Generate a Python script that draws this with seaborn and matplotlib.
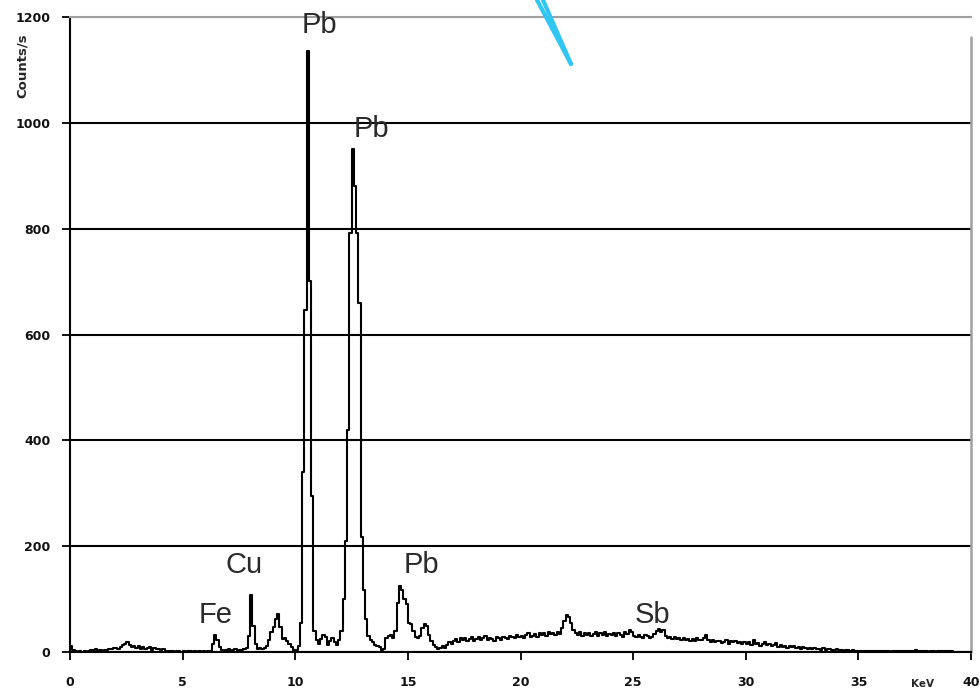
import numpy as np
import pandas as pd
import matplotlib
matplotlib.use("Agg")
import matplotlib.pyplot as plt
import seaborn as sns
from matplotlib.lines import Line2D

# X-ray fluorescence spectrum: counts per 0.1 keV channel, 0-40 keV
counts_0_10 = [
    12, 4, 1, 0, 1, 0, 1, 0, 2, 4,
    4, 5, 2, 3, 2, 4, 3, 6, 5, 7,
    8, 6, 9, 13, 16, 19, 14, 10, 12, 8,
    11, 6, 9, 5, 8, 10, 4, 7, 5, 6,
    3, 5, 2, 1, 2, 1, 0, 1, 1, 0,
    1, 0, 1, 1, 0, 1, 0, 1, 0, 1,
    0, 1, 1, 15, 32, 22, 9, 4, 2, 3,
    5, 2, 3, 5, 2, 4, 3, 5, 8, 30,
    108, 50, 15, 6, 8, 5, 7, 12, 22, 38,
    48, 62, 72, 48, 24, 27, 20, 16, 10, 4,
]
counts_10_20 = [
    3, 12, 54, 340, 647, 1135, 701, 295, 39, 22,
    15, 25, 32, 28, 14, 20, 26, 18, 14, 22,
    40, 101, 209, 419, 791, 950, 880, 791, 659, 217,
    117, 62, 31, 22, 18, 14, 12, 9, 4, 6,
    26, 30, 32, 27, 40, 92, 124, 118, 100, 90,
    55, 53, 40, 29, 27, 30, 45, 53, 50, 33,
    20, 13, 9, 6, 8, 11, 7, 14, 18, 16,
    20, 24, 18, 26, 22, 27, 20, 25, 29, 21,
    24, 28, 22, 26, 30, 23, 27, 25, 21, 28,
    26, 23, 29, 27, 24, 31, 28, 26, 32, 29,
]
counts_20_30 = [
    30, 27, 33, 35, 28, 31, 34, 29, 36, 33,
    35, 31, 38, 34, 36, 32, 37, 34, 45, 58,
    70, 66, 55, 42, 36, 33, 38, 31, 35, 32,
    36, 30, 34, 37, 31, 35, 33, 38, 30, 34,
    32, 36, 31, 35, 33, 29, 37, 34, 42, 38,
    31, 28, 33, 29, 27, 32, 30, 26, 29, 34,
    40, 44, 38, 42, 30, 27, 29, 25, 28, 24,
    26, 23, 27, 22, 25, 21, 24, 20, 26, 22,
    22, 26, 33, 22, 19, 22, 18, 21, 20, 17,
    19, 22, 16, 20, 18, 21, 17, 19, 15, 18,
]
counts_30_40 = [
    16, 19, 14, 22, 15, 17, 12, 16, 19, 13,
    15, 11, 14, 17, 10, 13, 9, 12, 8, 11,
    9, 12, 7, 10, 6, 9, 8, 5, 7, 6,
    8, 5, 6, 4, 7, 3, 5, 6, 4, 3,
    5, 3, 4, 2, 3, 4, 2, 3, 1, 2,
    2, 1, 2, 1, 1, 2, 1, 1, 2, 1,
    1, 2, 1, 1, 0, 1, 2, 1, 1, 2,
    1, 2, 2, 1, 1, 3, 1, 2, 1, 2,
    1, 0, 1, 1, 0, 2, 1, 2, 2, 1,
    2, 1, 0, 0, 0, 0, 0, 0, 0, 0,
]

counts = counts_0_10 + counts_10_20 + counts_20_30 + counts_30_40
energy = np.arange(len(counts)) * 0.1 + 0.05   # channel centres, keV

# Element line labels: (text, x in keV, baseline in counts/s)
peak_labels = ["Pb", "Pb", "Cu", "Fe", "Pb", "Sb"]
peak_label_x = [11.06, 13.39, 7.73, 6.46, 15.61, 25.87]
peak_label_y = [1170, 974, 149, 55, 149, 55]

x_ticks = [0, 5, 10, 15, 20, 25, 30, 35, 40]
y_ticks = [0, 200, 400, 600, 800, 1000, 1200]

sns.set_theme(style="white")
plt.rcParams["font.family"] = ["DejaVu Sans"]

fig = plt.figure(figsize=(9.8, 6.92), dpi=100)
ax = fig.add_axes([70 / 980, 40 / 692, 901 / 980, 635 / 692])

df = pd.DataFrame({"energy": energy, "counts": counts})
sns.lineplot(data=df, x="energy", y="counts", ax=ax, color="black",
             linewidth=1.5, drawstyle="steps-mid", estimator=None,
             zorder=3)

ax.set_xlim(0, 40)
ax.set_ylim(0, 1200)
ax.set_xticks(x_ticks)
ax.set_yticks(y_ticks)
ax.set_xlabel("")
ax.set_ylabel("")

ax.tick_params(axis="x", direction="out", length=6, width=1.3,
               color="black", pad=11, labelsize=9, bottom=True)
ax.tick_params(axis="y", direction="out", length=6, width=1.3,
               color="black", pad=8, labelsize=9, left=True)
for lbl in ax.get_xticklabels() + ax.get_yticklabels():
    lbl.set_fontweight("bold")
    lbl.set_color("#111111")

# horizontal grid, the top one in grey like the frame
ax.yaxis.grid(True, color="black", linewidth=1.5)
ax.xaxis.grid(False)
ax.set_axisbelow(True)
ax.get_ygridlines()[-1].set_color("#a0a0a0")

for side in ("left", "bottom"):
    ax.spines[side].set_color("black")
    ax.spines[side].set_linewidth(1.5)
ax.spines["top"].set_color("#a0a0a0")
ax.spines["top"].set_linewidth(1.5)
ax.spines["right"].set_visible(False)
ax.axvline(40, ymin=0, ymax=0.968, color="#a0a0a0", linewidth=1.8,
           clip_on=False)

for txt, lx, ly in zip(peak_labels, peak_label_x, peak_label_y):
    ax.text(lx, ly, txt, ha="center", va="baseline", fontsize=21,
            family="Liberation Sans", color="#2a2a2a", zorder=4)

fig.text(22 / 980, 1 - 66 / 692, "Counts/s", rotation=90, ha="center",
         va="center", fontsize=9.5, fontweight="bold")
fig.text(922 / 980, 1 - 684 / 692, "KeV", ha="center", va="center",
         fontsize=7.5, fontweight="bold")

# pointer stroke reaching down from the top edge
fig.add_artist(Line2D([537 / 980, 571 / 980], [1.0, 1 - 64 / 692],
                      color="#30c6f2", linewidth=3, solid_capstyle="round"))
fig.add_artist(Line2D([543 / 980, 571 / 980], [1.0, 1 - 64 / 692],
                      color="#30c6f2", linewidth=3, solid_capstyle="round"))

fig.savefig("out.png", dpi=100)
